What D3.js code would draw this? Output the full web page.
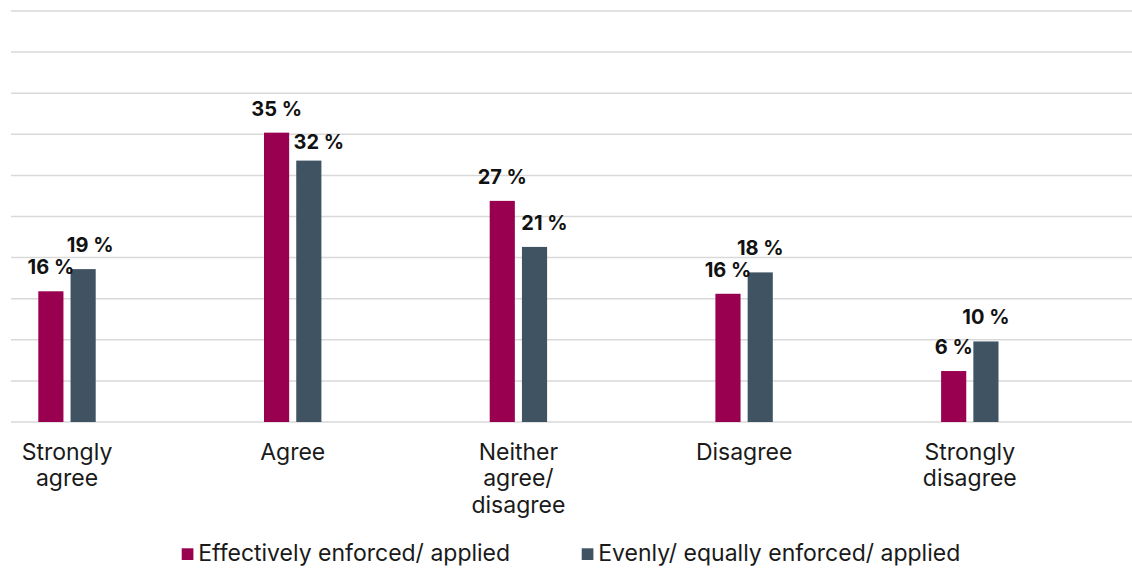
<!DOCTYPE html>
<html>
<head>
<meta charset="utf-8">
<script src="https://cdn.jsdelivr.net/npm/d3@7"></script>
<style>
  html, body { margin: 0; padding: 0; background: #fff; }
  svg { display: block; font-family: Inter, "Noto Sans", sans-serif; }
</style>
</head>
<body>
<svg id="chart" width="1132" height="571"></svg>
<script>
const categories = [["Strongly", "agree"], ["Agree"], ["Neither", "agree/", "disagree"], ["Disagree"], ["Strongly", "disagree"]];
const categoryKeys = ["Strongly agree", "Agree", "Neither agree/ disagree", "Disagree", "Strongly disagree"];
const seriesNames = ["Effectively enforced/ applied", "Evenly/ equally enforced/ applied"];
const effectively = [15.9, 35.2, 26.9, 15.6, 6.2];
const evenly = [18.6, 31.8, 21.3, 18.2, 9.8];
const effectivelyLabels = ["16 %", "35 %", "27 %", "16 %", "6 %"];
const evenlyLabels = ["19 %", "32 %", "21 %", "18 %", "10 %"];
const yTicks = [0, 5, 10, 15, 20, 25, 30, 35, 40, 45, 50];

const colors = ["#99004f", "#405363"];
const W = 1132, H = 571;
const svg = d3.select("#chart");

const y = d3.scaleLinear().domain([0, 50]).range([422, 11]);
const step = 225.7;
const x0 = d3.scaleBand().domain(categoryKeys)
  .range([67 - step / 2, 67 - step / 2 + step * categoryKeys.length])
  .paddingInner(0).paddingOuter(0);
const groupW = 57.4;
const x1 = d3.scaleBand().domain([0, 1]).range([-groupW / 2, groupW / 2]).paddingInner(0.22).paddingOuter(0);

// gridlines
svg.append("g").selectAll("line").data(yTicks).join("line")
  .attr("x1", 11).attr("x2", W)
  .attr("y1", d => y(d)).attr("y2", d => y(d))
  .attr("stroke", "#d9d9d9").attr("stroke-width", 1.5);

const rows = categoryKeys.map((k, i) => ({
  key: k,
  vals: [
    { s: 0, v: effectively[i], label: effectivelyLabels[i] },
    { s: 1, v: evenly[i], label: evenlyLabels[i] }
  ]
}));

// label nudges (layout, not data): [dx, dy]
const nudge = { "Strongly agree-1": [7, 0], "Agree-1": [10, 5], "Neither agree/ disagree-1": [10, 0] };

const groups = svg.append("g").selectAll("g").data(rows).join("g")
  .attr("transform", d => `translate(${x0(d.key) + x0.bandwidth() / 2},0)`);

groups.selectAll("rect").data(d => d.vals).join("rect")
  .attr("x", d => x1(d.s))
  .attr("width", x1.bandwidth())
  .attr("y", d => y(d.v))
  .attr("height", d => y(0) - y(d.v))
  .attr("fill", d => colors[d.s]);

groups.each(function(row) {
  d3.select(this).selectAll("text.val").data(row.vals).join("text")
    .attr("class", "val")
    .attr("x", d => x1(d.s) + x1.bandwidth() / 2 + ((nudge[row.key + "-" + d.s] || [0, 0])[0]))
    .attr("y", d => y(d.v) - 17 + ((nudge[row.key + "-" + d.s] || [0, 0])[1]))
    .attr("text-anchor", "middle")
    .attr("font-size", 20)
    .attr("font-weight", 700)
    .attr("fill", "#111")
    .text(d => d.label);
});

// category labels
const catG = svg.append("g").selectAll("text").data(categoryKeys).join("text")
  .attr("x", d => x0(d) + x0.bandwidth() / 2)
  .attr("y", 459.5)
  .attr("text-anchor", "middle")
  .attr("font-size", 23)
  .attr("fill", "#1a1a1a");
catG.each(function(d, i) {
  d3.select(this).selectAll("tspan").data(categories[i]).join("tspan")
    .attr("x", x0(d) + x0.bandwidth() / 2)
    .attr("dy", (t, j) => j === 0 ? 0 : 26.5)
    .text(t => t);
});

// legend
const legendX = [181.7, 581.7];
const leg = svg.append("g").selectAll("g").data(seriesNames).join("g")
  .attr("transform", (d, i) => `translate(${legendX[i]},0)`);
leg.append("rect").attr("x", 0).attr("y", 548.3).attr("width", 11.7).attr("height", 11.7)
  .attr("fill", (d, i) => colors[i]);
leg.append("text").attr("x", 16.5).attr("y", 561)
  .attr("font-size", 23).attr("fill", "#1a1a1a").text(d => d);
</script>
</body>
</html>
